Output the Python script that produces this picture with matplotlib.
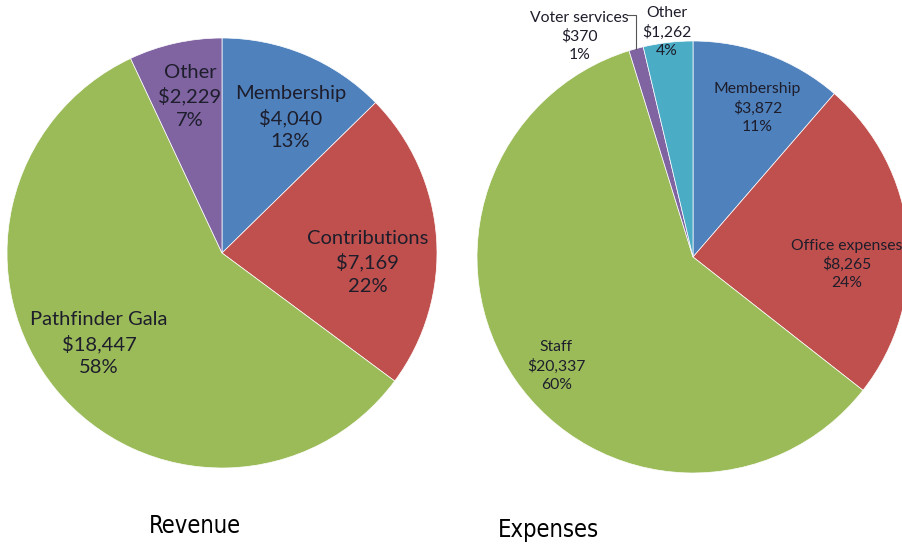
import numpy as np
import matplotlib.pyplot as plt

# revenue pie
rev_labels = ['Membership', 'Contributions', 'Pathfinder Gala', 'Other']
rev_values = [4040, 7169, 18447, 2229]

# expenses pie
exp_labels = ['Membership', 'Office expenses', 'Staff', 'Voter services', 'Other']
exp_values = [3872, 8265, 20337, 370, 1262]

rev_colors = ['#4F81BD', '#C0504D', '#9BBB59', '#8064A2']
exp_colors = ['#4F81BD', '#C0504D', '#9BBB59', '#8064A2', '#4BACC6']

W, H = 903, 544
LABEL_FONT = ['Lato', 'DejaVu Sans']
TEXT_COL = '#1d1d2b'


def make_label(name, value, total):
    pct = int(round(100.0 * value / total))
    return f"{name}\n${value:,}\n{pct}%"


def draw_pie(fig, cx, cy, r, values, colors):
    # axes box in pixel coords so that the pie radius is r px
    ax = fig.add_axes([(cx - r) / W, (H - cy - r) / H, 2 * r / W, 2 * r / H])
    wedges, _ = ax.pie(values, colors=colors, startangle=90, counterclock=False,
                       radius=1.0, wedgeprops=dict(edgecolor='white', linewidth=0.5))
    ax.set_xlim(-1, 1)
    ax.set_ylim(-1, 1)
    ax.axis('off')
    return ax, wedges


fig = plt.figure(figsize=(W / 100, H / 100), dpi=100)

# ---- Revenue ----
ax1, w1 = draw_pie(fig, 222, 253, 215, rev_values, rev_colors)
rev_total = sum(rev_values)
rev_dist = [0.705, 0.68, 0.71, 0.745]
rev_shift = [-4, -7.5, -3, -1]
for w, name, val, d, s in zip(w1, rev_labels, rev_values, rev_dist, rev_shift):
    ang = np.deg2rad((w.theta1 + w.theta2) / 2 + s)
    ax1.text(d * np.cos(ang), d * np.sin(ang), make_label(name, val, rev_total),
             ha='center', va='center', fontsize=14.5, family=LABEL_FONT,
             color=TEXT_COL, linespacing=1.42)

# ---- Expenses ----
ax2, w2 = draw_pie(fig, 693, 257, 216, exp_values, exp_colors)
exp_total = sum(exp_values)
exp_dist = [0.75, 0.712, 0.81, 1.15, 1.05]
exp_shift = [-3, -8.3, 4, 12, 0]
for w, name, val, d, s in zip(w2, exp_labels, exp_values, exp_dist, exp_shift):
    mid = np.deg2rad((w.theta1 + w.theta2) / 2)
    ang = mid + np.deg2rad(s)
    tx, ty = d * np.cos(ang), d * np.sin(ang)
    ax2.text(tx, ty, make_label(name, val, exp_total),
             ha='center', va='center', fontsize=11.3, family=LABEL_FONT,
             color=TEXT_COL, linespacing=1.38)
    if name == 'Voter services':
        # elbow leader line from the first text line down to the slice edge
        ex, ey = np.cos(mid), np.sin(mid)
        y_first = ty + 0.096
        ax2.plot([ex - 0.04, ex, ex], [y_first, y_first, ey], color='#555555',
                 linewidth=0.8, clip_on=False)

fig.text(195 / W, 1 - 533 / H, 'Revenue', ha='center', va='baseline',
         fontsize=17, family='DejaVu Sans', fontstretch='condensed', color='black')
fig.text(548 / W, 1 - 537 / H, 'Expenses', ha='center', va='baseline',
         fontsize=17, family='DejaVu Sans', fontstretch='condensed', color='black')

fig.savefig('out.png', dpi=100, facecolor='white')
